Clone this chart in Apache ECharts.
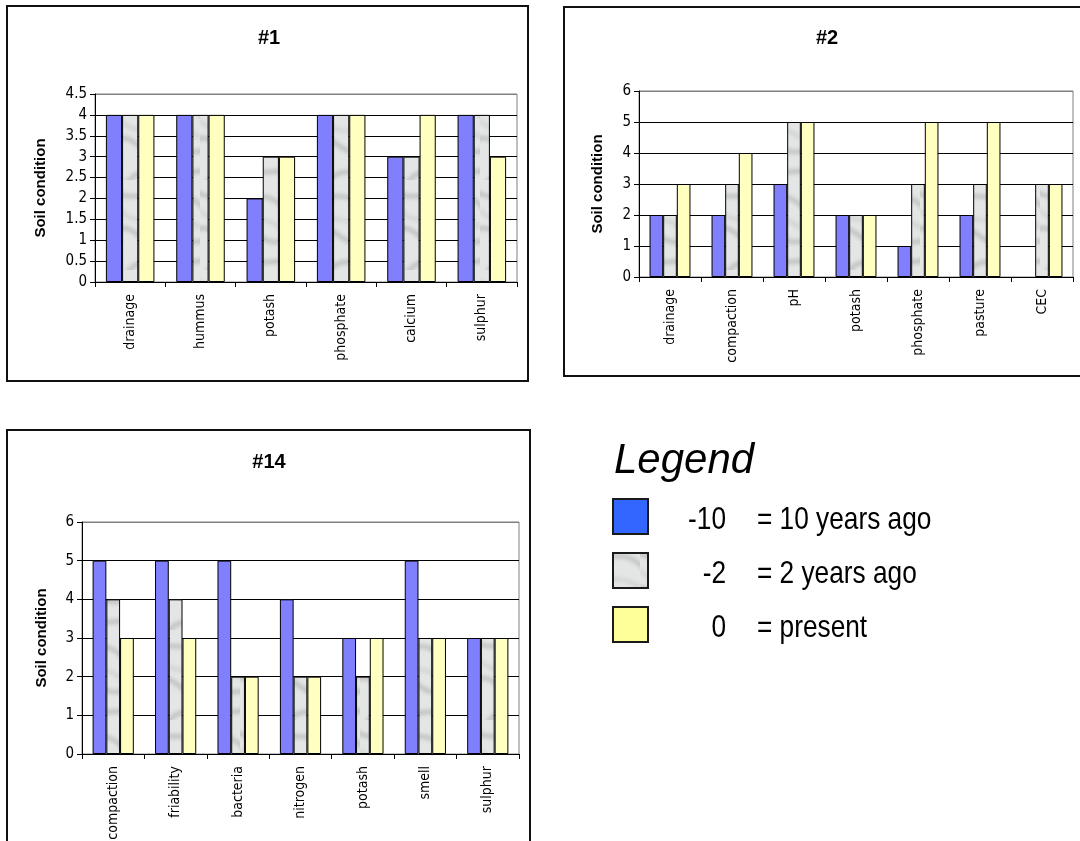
<!DOCTYPE html>
<html>
<head>
<meta charset="utf-8">
<script src="https://cdn.jsdelivr.net/npm/echarts@6/dist/echarts.min.js"></script>
<style>
html,body{margin:0;padding:0;background:#fff;}
#chart{width:1080px;height:841px;}
</style>
</head>
<body>
<div id="chart"></div>
<script>
// ---- data ----
const seriesNames = ['-10', '-2', '0'];
const legendLabels = ['= 10 years ago', '= 2 years ago', '= present'];

const cats1 = ['drainage', 'hummus', 'potash', 'phosphate', 'calcium', 'sulphur'];
const c1_10y = [4, 4, 2, 4, 3, 4];
const c1_2y  = [4, 4, 3, 4, 3, 4];
const c1_now = [4, 4, 3, 4, 4, 3];

const cats2 = ['drainage', 'compaction', 'pH', 'potash', 'phosphate', 'pasture', 'CEC'];
const c2_10y = [2, 2, 3, 2, 1, 2, null];
const c2_2y  = [2, 3, 5, 2, 3, 3, 3];
const c2_now = [3, 4, 5, 2, 5, 5, 3];

const cats14 = ['compaction', 'friability', 'bacteria', 'nitrogen', 'potash', 'smell', 'sulphur'];
const c14_10y = [5, 5, 5, 4, 3, 5, 3];
const c14_2y  = [4, 4, 2, 2, 2, 3, 3];
const c14_now = [3, 3, 2, 2, 3, 3, 3];

const titles = ['#1', '#2', '#14'];
const yName = 'Soil condition';

// ---- styling ----
const NARROW = '"Liberation Sans Narrow", "DejaVu Sans Condensed", "Arial Narrow", sans-serif';
const SANS = '"Liberation Sans", Arial, sans-serif';

// grey marbled texture for the "-2" series
function makeTexture() {
  const c = document.createElement('canvas');
  c.width = 40; c.height = 90;
  const g = c.getContext('2d');
  g.fillStyle = '#e4e6e6';
  g.fillRect(0, 0, 40, 90);
  g.filter = 'blur(2px)';
  g.strokeStyle = 'rgba(140,140,140,0.6)';
  g.lineWidth = 3;
  g.beginPath();
  g.moveTo(-5, 10); g.bezierCurveTo(10, 25, 25, 5, 45, 30);
  g.moveTo(-5, 50); g.bezierCurveTo(15, 40, 20, 70, 45, 60);
  g.moveTo(5, 95); g.bezierCurveTo(20, 75, 30, 85, 45, 80);
  g.stroke();
  g.strokeStyle = 'rgba(160,160,160,0.5)';
  g.lineWidth = 2;
  g.beginPath();
  g.moveTo(0, 30); g.bezierCurveTo(12, 45, 28, 35, 40, 48);
  g.stroke();
  return c;
}
const tex = makeTexture();
const barColors = ['#8080ff', { image: tex, repeat: 'repeat' }, '#ffffc0'];
const legendColors = ['#3366ff', { image: tex, repeat: 'repeat' }, '#ffff99'];

const grids = [
  { left: 95, top: 94, width: 422, height: 188 },
  { left: 639, top: 91, width: 434, height: 186 },
  { left: 82, top: 522, width: 437, height: 232 }
];
const catsAll = [cats1, cats2, cats14];
const dataAll = [[c1_10y, c1_2y, c1_now], [c2_10y, c2_2y, c2_now], [c14_10y, c14_2y, c14_now]];
const yMax = [4.5, 6, 6];
const yInt = [0.5, 1, 1];
const nameGaps = [47, 34, 33];
const catGaps = ['31%', '34%', '34%'];

function splitColors(max, step) {
  const n = Math.round(max / step) + 1;
  const arr = [];
  for (let i = 0; i < n; i++) arr.push(i === n - 1 ? '#808080' : '#000000');
  return arr;
}

const option = {
  backgroundColor: '#ffffff',
  animation: false,
  grid: grids.map(g => Object.assign({
    show: true, borderColor: '#808080', borderWidth: 1, backgroundColor: '#fff',
    containLabel: false, outerBoundsMode: 'none'
  }, g)),
  xAxis: catsAll.map((cats, i) => ({
    type: 'category',
    gridIndex: i,
    data: cats,
    boundaryGap: true,
    axisLine: { lineStyle: { color: '#000', width: 1 } },
    axisTick: { show: true, interval: 0, length: 5, lineStyle: { color: '#000' } },
    axisLabel: { interval: 0, rotate: 90, margin: 12, color: '#000', fontFamily: NARROW, fontSize: 14 },
    splitLine: { show: false }
  })),
  yAxis: yMax.map((m, i) => ({
    type: 'value',
    gridIndex: i,
    min: 0,
    max: m,
    interval: yInt[i],
    name: yName,
    nameLocation: 'middle',
    nameGap: nameGaps[i],
    nameTextStyle: { fontFamily: SANS, fontWeight: 'bold', fontSize: 15, color: '#000' },
    axisLine: { show: true, lineStyle: { color: '#000', width: 1 } },
    axisTick: { show: true, length: 5, lineStyle: { color: '#000' } },
    axisLabel: { color: '#000', fontFamily: NARROW, fontSize: 15, margin: 8 },
    splitLine: { show: true, lineStyle: { color: splitColors(m, yInt[i]), width: 1 } }
  })),
  series: []
};

dataAll.forEach((set, gi) => {
  set.forEach((vals, si) => {
    option.series.push({
      type: 'bar',
      name: seriesNames[si],
      xAxisIndex: gi,
      yAxisIndex: gi,
      data: vals,
      barGap: '0%',
      barCategoryGap: catGaps[gi],
      itemStyle: { color: barColors[si], borderColor: '#000', borderWidth: 1 }
    });
  });
});

// frames, titles and legend
const boxes = [
  { x: 7, y: 6, width: 521, height: 375 },
  { x: 564, y: 7, width: 520, height: 369 },
  { x: 7, y: 430, width: 523, height: 420 }
];
const titlePos = [[269, 38], [827, 38], [269, 462]];
const graphics = [];
boxes.forEach(b => graphics.push({
  type: 'rect', shape: b, z: 0, silent: true,
  style: { fill: null, stroke: '#111', lineWidth: 2 }
}));
titles.forEach((t, i) => graphics.push({
  type: 'text', x: titlePos[i][0], y: titlePos[i][1], z: 10,
  style: { text: t, fill: '#000', font: 'bold 20px ' + SANS, textAlign: 'center', textVerticalAlign: 'middle' }
}));
graphics.push({
  type: 'text', x: 614, y: 461, z: 10,
  style: { text: 'Legend', fill: '#000', font: 'italic 42px ' + SANS, textAlign: 'left', textVerticalAlign: 'middle' }
});
const legendRowsY = [516, 570, 624];
seriesNames.forEach((n, i) => {
  const y = legendRowsY[i];
  graphics.push({
    type: 'rect', shape: { x: 613, y: y - 17, width: 35, height: 35 }, z: 10,
    style: { fill: legendColors[i], stroke: '#1a1a1a', lineWidth: 2 }
  });
  graphics.push({
    type: 'text', x: 726, y: y + 4, scaleX: 0.82, z: 10,
    style: { text: n, fill: '#000', font: '32px ' + SANS, textAlign: 'right', textVerticalAlign: 'middle' }
  });
  graphics.push({
    type: 'text', x: 757, y: y + 4, scaleX: 0.82, z: 10,
    style: { text: legendLabels[i], fill: '#000', font: '32px ' + SANS, textAlign: 'left', textVerticalAlign: 'middle' }
  });
});
option.graphic = graphics;

const chart = echarts.init(document.getElementById('chart'), null, { renderer: 'canvas' });
chart.setOption(option);
</script>
</body>
</html>
